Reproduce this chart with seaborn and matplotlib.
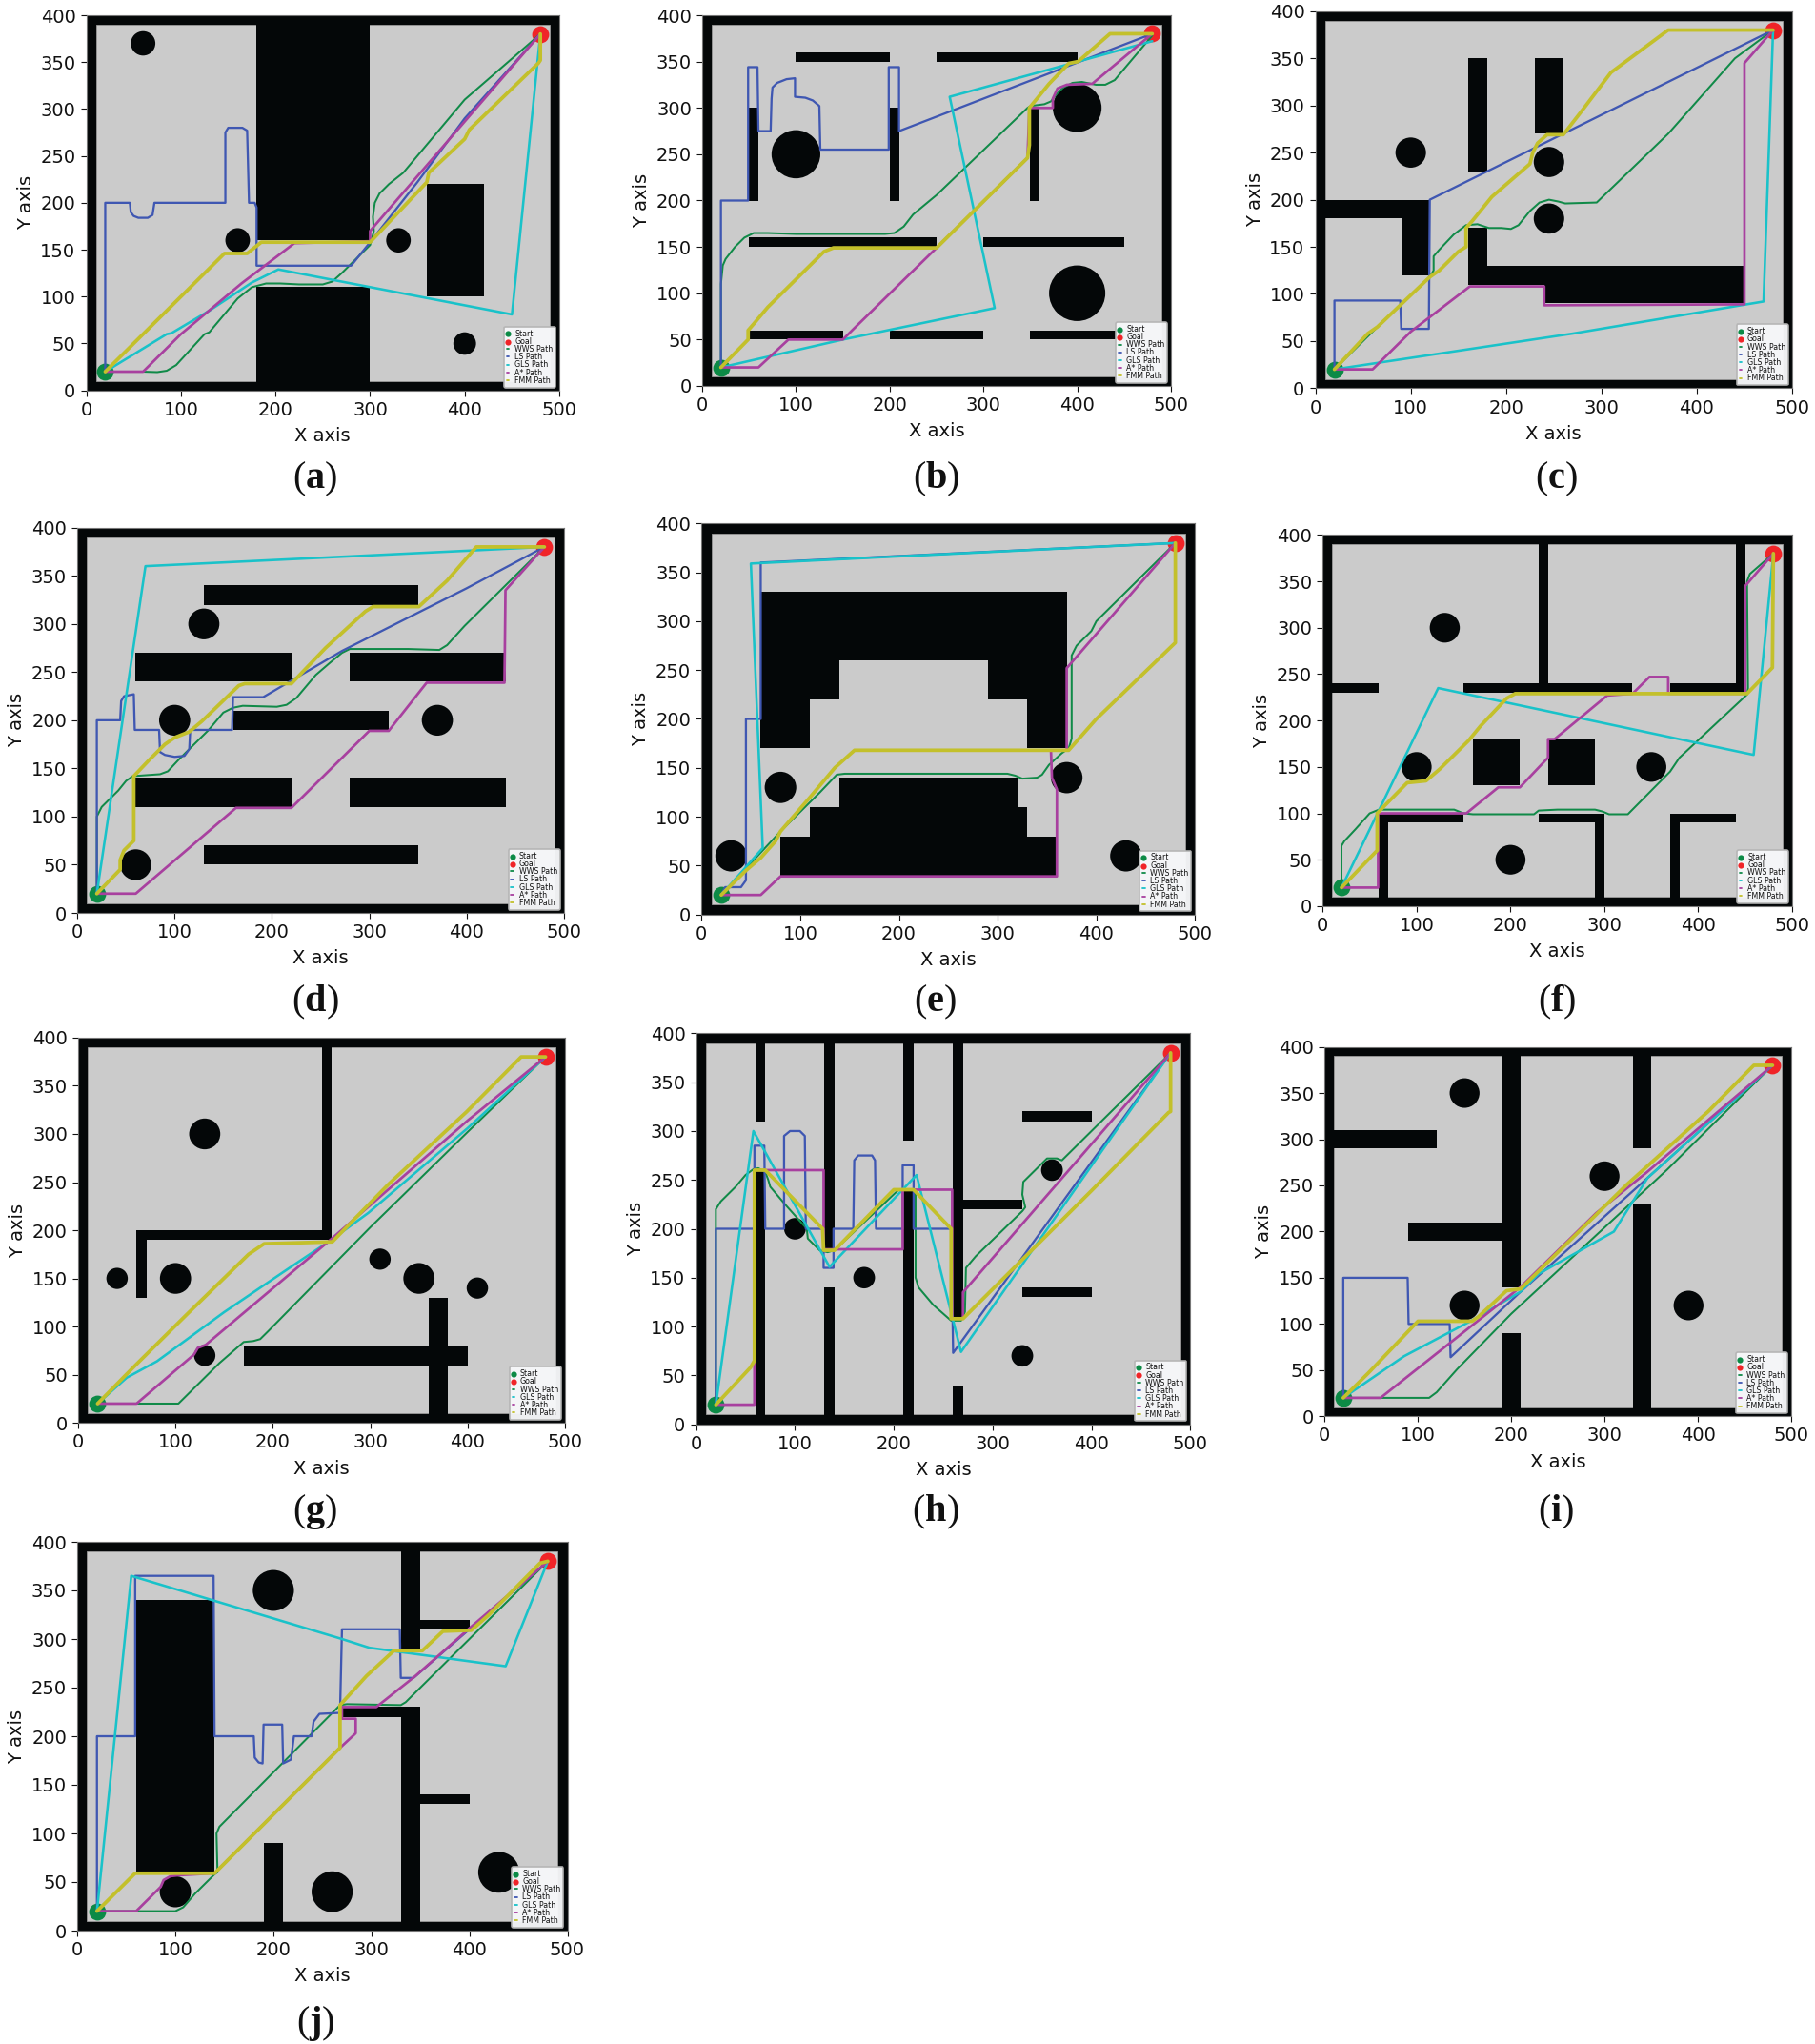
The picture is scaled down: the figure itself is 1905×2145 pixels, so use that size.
import matplotlib
matplotlib.use("Agg")
import matplotlib.pyplot as plt
from matplotlib.patches import Rectangle, Circle
import seaborn as sns

# ---------- DATA: obstacles (x0, x1, y0, y1), circles (x, y, r), paths (x, y) ----------
a_rects = [(180, 300, 160, 400), (180, 300, 0, 110), (360, 420, 100, 220)]
a_circles = [(60, 370, 13), (160, 160, 13), (330, 160, 13), (400, 50, 12)]
a_wws = [(20,20),(60,20),(75,19.5),(85,21),(95,27),(105,38),(125,60),(130,62),(160,98),(175,110),(190,114),(205,114),(225,113),(250,113),(260,116),(270,125),(285,140),(300,155),(304,170),(303,185),(305,200),(310,210),(320,220),(335,232),(350,250),(400,310),(480,380)]
a_ls = [(20,20),(20,200),(46,200),(47,190),(50,186),(55,184),(65,184),(70,187),(72,200),(147,200),(147,275),(150,280),(165,280),(170,277),(172,200),(178,200),(180,195),(180,133),(280,133),(300,158),(350,222),(400,290),(480,380)]
a_gls = [(20,20),(85,60),(90,61),(130,85),(175,115),(203,129),(450,81),(480,380)]
a_astar = [(20,20),(60,20),(100,60),(164,114),(220,157),(300,159),(300,170),(480,380)]
a_fmm = [(20,20),(60,60),(146,146),(170,146),(185,158),(300,158),(360,222),(362,232),(400,268),(405,278),(478,349),(480,352),(480,380)]

b_rects = [(50,60,200,300),(200,210,200,300),(350,360,200,300),(100,200,350,360),(250,400,350,360),(50,250,150,160),(300,450,150,160),(50,150,50,60),(200,300,50,60),(350,450,50,60)]
b_circles = [(100,250,26),(400,300,26),(400,100,30)]
b_wws = [(20,20),(20,110),(22,130),(25,137),(35,150),(45,160),(55,165),(70,165),(100,164),(150,164),(195,164),(205,165),(215,172),(225,185),(250,206),(347,300),(350,302),(365,304),(372,307),(378,315),(385,322),(395,327),(405,328),(420,325),(430,325),(440,330),(480,378)]
b_ls = [(20,20),(20,200),(49,200),(49,344),(59,344),(60,275),(73,275),(74,310),(75,322),(80,327),(90,331),(99,332),(99,312),(110,311),(118,308),(125,302),(126,255),(199,255),(199,344),(210,344),(210,275),(480,380)]
b_gls = [(20,20),(150,50),(312,84),(264,312),(401,350),(480,372)]
b_astar = [(20,20),(60,20),(92,50),(150,50),(162,62),(250,149),(347,246),(349,300),(374,300),(374,310),(379,321),(389,325),(416,326),(480,380)]
b_fmm = [(20,20),(49,50),(49,60),(55,67),(70,85),(115,130),(130,145),(140,149),(250,149),(347,246),(349,260),(349,300),(370,326),(391,348),(401,350),(435,380),(480,380)]

c_rects = [(10,120,180,200),(90,120,120,200),(160,180,230,350),(230,260,270,350),(160,180,110,170),(160,450,110,130),(240,450,90,130)]
c_circles = [(100,250,16),(245,240,16),(245,180,16)]
c_wws = [(20,20),(60,60),(120,118),(124,125),(124,140),(130,147),(145,163),(158,173),(170,174),(182,170),(195,170),(205,169),(213,173),(225,188),(235,197),(245,200),(255,198),(262,196),(295,197),(370,270),(440,350),(480,380)]
c_ls = [(20,20),(20,93),(89,93),(90,63),(119,63),(120,200),(370,325),(480,380)]
c_gls = [(20,20),(270,58),(370,75),(470,92),(480,380)]
c_astar = [(20,20),(60,20),(100,60),(162,108),(240,108),(240,88),(450,89),(450,345),(480,380)]
c_fmm = [(20,20),(55,58),(65,65),(120,118),(130,125),(150,145),(158,150),(158,170),(165,178),(185,203),(225,238),(228,250),(233,260),(243,269),(260,269),(280,295),(310,335),(370,380),(480,380)]

d_rects = [(130,350,320,340),(60,220,240,270),(280,440,240,270),(160,320,190,210),(60,220,110,140),(280,440,110,140),(130,350,50,70)]
d_circles = [(130,300,16),(100,200,16),(370,200,16),(60,50,16)]
d_wws = [(20,20),(20,100),(25,110),(35,120),(42,127),(50,137),(57,142),(85,144),(93,147),(105,160),(115,170),(135,190),(150,208),(160,213),(170,215),(205,214),(215,216),(225,223),(245,247),(260,260),(272,270),(280,274),(295,274),(340,274),(372,273),(380,278),(398,298),(440,340),(480,380)]
d_ls = [(20,20),(20,200),(44,200),(45,220),(48,225),(58,227),(59,190),(84,190),(85,167),(90,164),(100,162),(110,163),(115,170),(116,190),(159,190),(160,224),(191,224),(272,272),(400,337),(480,380)]
d_gls = [(20,20),(70,360),(400,376),(480,380)]
d_astar = [(20,20),(60,20),(163,109),(220,109),(300,189),(320,189),(359,239),(439,239),(440,335),(480,380)]
d_fmm = [(20,20),(44,45),(44,55),(48,65),(58,75),(58,142),(75,160),(90,175),(100,182),(115,188),(128,199),(166,236),(172,238),(220,238),(255,275),(296,313),(304,318),(351,318),(380,345),(410,380),(480,380)]

e_rects = [(60,370,260,330),(60,140,220,260),(290,370,220,260),(60,110,170,220),(330,370,170,220),(140,320,40,140),(110,330,40,110),(80,360,40,80)]
e_circles = [(30,60,16),(80,130,16),(370,140,16),(430,60,16)]
e_wws = [(20,20),(80,85),(100,105),(120,125),(137,143),(145,144),(310,144),(318,142),(325,139),(340,140),(345,143),(352,153),(365,165),(372,170),(375,180),(375,265),(380,275),(395,290),(400,300),(480,380)]
e_ls = [(20,20),(24,28),(40,28),(45,35),(45,200),(60,200),(60,360),(480,380)]
e_gls = [(20,20),(62,68),(50,359),(480,380)]
e_astar = [(20,20),(60,20),(80,39),(360,39),(360,128),(355,140),(354,168),(370,168),(370,252),(480,380)]
e_fmm = [(20,20),(45,45),(60,58),(75,75),(80,85),(110,120),(135,150),(155,168),(372,168),(400,200),(480,278),(480,380)]

f_rects = [(230,240,230,400),(10,60,230,240),(150,330,230,240),(370,440,230,240),(440,450,230,400),(60,150,90,100),(60,70,0,100),(230,300,90,100),(290,300,0,100),(370,440,90,100),(370,380,0,100),(160,210,130,180),(240,290,130,180)]
f_circles = [(100,150,16),(350,150,16),(130,300,16),(200,50,16)]
f_wws = [(20,20),(20,65),(23,70),(35,83),(50,100),(60,104),(140,104),(145,102),(150,100),(160,99),(225,99),(230,103),(250,104),(290,104),(298,102),(305,99),(325,99),(370,145),(380,160),(452,228),(453,235),(452,350),(455,358),(480,380)]
f_gls = [(20,20),(123,235),(459,163),(480,380)]
f_astar = [(20,20),(59,20),(59,100),(153,100),(187,128),(210,128),(240,160),(240,180),(247,180),(303,227),(330,229),(348,247),(368,247),(368,229),(450,229),(450,345),(480,380)]
f_fmm = [(20,20),(58,60),(58,100),(90,133),(100,134),(110,135),(125,148),(155,178),(168,194),(196,224),(205,229),(452,229),(479,257),(480,380)]

g_rects = [(250,260,190,400),(60,260,190,200),(60,70,130,200),(170,400,60,80),(360,380,0,130)]
g_circles = [(40,150,11),(100,150,16),(130,300,16),(310,170,11),(350,150,16),(410,140,11),(130,70,11)]
g_wws = [(20,20),(60,20),(103,20),(125,42),(145,62),(170,84),(180,85),(187,87),(195,95),(300,203),(400,302),(480,380)]
g_gls = [(20,20),(50,47),(81,64),(150,115),(223,165),(260,190),(298,218),(400,306),(480,380)]
g_astar = [(20,20),(60,20),(119,71),(123,78),(131,81),(259,190),(399,313),(480,380)]
g_fmm = [(20,20),(59,60),(111,112),(175,175),(191,186),(261,188),(319,248),(399,323),(455,380),(480,380)]

h_rects = [(60,70,310,400),(60,70,0,260),(130,140,180,400),(130,140,0,140),(210,220,290,400),(210,220,0,240),(260,270,110,400),(260,270,0,40),(270,330,220,230),(330,400,310,320),(330,400,130,140)]
h_circles = [(100,200,11),(170,150,11),(360,260,11),(330,70,11)]
h_wws = [(20,20),(20,220),(25,228),(40,243),(50,255),(58,261),(63,262),(70,258),(73,250),(75,243),(90,225),(112,200),(113,190),(125,178),(133,176),(140,178),(205,240),(222,240),(222,150),(225,140),(240,122),(258,106),(268,106),(272,115),(273,160),(283,172),(330,218),(333,222),(330,235),(331,248),(345,262),(355,272),(365,272),(370,270),(400,300),(480,380)]
h_ls = [(20,20),(20,200),(59,200),(59,285),(69,285),(70,200),(89,200),(89,295),(95,300),(105,300),(110,295),(111,200),(129,200),(129,160),(139,160),(139,200),(159,200),(160,270),(164,275),(178,275),(181,270),(182,200),(209,200),(209,265),(220,265),(220,200),(258,200),(260,73),(480,380)]
h_gls = [(20,20),(58,300),(135,161),(223,255),(268,74),(480,380)]
h_astar = [(20,20),(59,20),(59,260),(129,260),(129,179),(209,179),(209,240),(259,240),(259,108),(270,108),(270,135),(480,380)]
h_fmm = [(20,20),(55,58),(59,65),(59,260),(70,260),(128,200),(129,178),(140,178),(200,240),(220,240),(258,200),(258,108),(270,108),(400,239),(478,319),(480,320),(480,380)]

i_rects = [(10,120,290,310),(90,190,190,210),(190,210,140,400),(190,210,0,90),(330,350,290,400),(330,350,0,230)]
i_circles = [(150,350,16),(300,260,16),(150,120,16),(390,120,16)]
i_wws = [(20,20),(112,20),(120,26),(142,51),(200,111),(367,267),(480,380)]
i_ls = [(20,20),(20,150),(89,150),(90,100),(134,100),(135,64),(208,133),(347,259),(480,380)]
i_gls = [(20,20),(85,65),(160,105),(210,135),(229,154),(310,200),(346,258),(480,380)]
i_astar = [(20,20),(60,20),(210,140),(291,220),(345,264),(480,380)]
i_fmm = [(20,20),(47,47),(100,103),(158,103),(165,108),(195,136),(210,138),(324,251),(411,330),(460,380),(480,380)]

j_rects = [(60,140,60,340),(190,210,0,90),(330,350,290,400),(330,350,0,230),(270,350,220,230),(350,400,310,320),(350,400,130,140)]
j_circles = [(200,350,21),(100,40,16),(260,40,21),(430,60,21)]
j_wws = [(20,20),(100,20),(108,24),(120,38),(140,58),(143,60),(142,100),(145,107),(268,232),(275,233),(330,232),(335,235),(400,300),(480,380)]
j_ls = [(20,20),(20,200),(59,200),(59,365),(139,365),(140,200),(180,200),(181,178),(185,173),(189,172),(190,212),(209,212),(210,172),(218,176),(221,200),(239,200),(241,215),(247,223),(268,224),(270,310),(329,310),(330,260),(343,260),(400,310),(480,380)]
j_gls = [(20,20),(55,365),(270,300),(298,291),(437,272),(480,380)]
j_astar = [(20,20),(60,20),(85,45),(88,52),(95,56),(104,57),(140,59),(268,188),(284,203),(284,218),(270,218),(270,230),(305,230),(345,262),(400,311),(480,380)]
j_fmm = [(20,20),(59,59),(140,59),(268,188),(268,232),(295,262),(323,288),(352,288),(373,308),(402,309),(420,325),(472,378),(480,380)]

start_point = (20, 20)
goal_point = (480, 380)
x_ticks = [0, 100, 200, 300, 400, 500]
y_ticks = [0, 50, 100, 150, 200, 250, 300, 350, 400]
panel_letters = ["a", "b", "c", "d", "e", "f", "g", "h", "i", "j"]

# ---------- LAYOUT (pixels): left, right, top, bottom of the axes; caption centre ----------
W, H = 1905, 2145
boxes = {
    "a": (90.6, 587, 16, 409.7, 331, 502),
    "b": (737, 1229, 16, 405, 983, 502),
    "c": (1380.6, 1881, 11.8, 407.4, 1634, 502),
    "d": (81.2, 591.8, 553.7, 958, 331, 1051),
    "e": (736.3, 1254.3, 549.3, 959.7, 982, 1051),
    "f": (1388.3, 1881, 561.4, 950.9, 1634, 1051),
    "g": (82, 593, 1088.9, 1493.2, 331, 1586),
    "h": (730.6, 1249.4, 1084.4, 1494.6, 982, 1586),
    "i": (1390.3, 1880, 1098.6, 1486.3, 1633, 1586),
    "j": (81.2, 595.5, 1618, 2026, 331, 2123),
}
panels = {
    "a": (a_rects, a_circles, a_wws, a_ls, a_gls, a_astar, a_fmm),
    "b": (b_rects, b_circles, b_wws, b_ls, b_gls, b_astar, b_fmm),
    "c": (c_rects, c_circles, c_wws, c_ls, c_gls, c_astar, c_fmm),
    "d": (d_rects, d_circles, d_wws, d_ls, d_gls, d_astar, d_fmm),
    "e": (e_rects, e_circles, e_wws, e_ls, e_gls, e_astar, e_fmm),
    "f": (f_rects, f_circles, f_wws, None, f_gls, f_astar, f_fmm),
    "g": (g_rects, g_circles, g_wws, None, g_gls, g_astar, g_fmm),
    "h": (h_rects, h_circles, h_wws, h_ls, h_gls, h_astar, h_fmm),
    "i": (i_rects, i_circles, i_wws, i_ls, i_gls, i_astar, i_fmm),
    "j": (j_rects, j_circles, j_wws, j_ls, j_gls, j_astar, j_fmm),
}
styles = [("WWS Path", "#108a48", 1.45), ("LS Path", "#3f57b2", 1.65), ("GLS Path", "#19c2c9", 1.85),
          ("A* Path", "#a8409f", 1.95), ("FMM Path", "#c3c02b", 2.7)]
BLACK = "#040708"
GRAY = "#cbcbcb"
CAP = 29

sns.set_theme(style="ticks", rc={"font.family": "DejaVu Sans", "text.color": "#111111",
                                 "axes.labelcolor": "#111111", "xtick.color": "#111111", "ytick.color": "#111111"})
fig = plt.figure(figsize=(W / 100, H / 100), dpi=100, facecolor="white")
renderer = fig.canvas.get_renderer()

for letter in panel_letters:
    left, right, top, bottom, cx, cy = boxes[letter]
    rects, circles, wws, ls, gls, astar, fmm = panels[letter]
    ax = fig.add_axes([left / W, 1 - bottom / H, (right - left) / W, (bottom - top) / H])
    ax.set_facecolor(BLACK)
    ax.add_patch(Rectangle((10, 10), 480, 380, fc=GRAY, ec="#9a9a9a", lw=0.6, zorder=1))
    for x0, x1, y0, y1 in rects:
        ax.add_patch(Rectangle((x0, y0), x1 - x0, y1 - y0, fc=BLACK, ec="none", zorder=1.1))
    for x, y, r in circles:
        ax.add_patch(Circle((x, y), r, fc=BLACK, ec="none", zorder=1.1))

    sns.scatterplot(x=[start_point[0]], y=[start_point[1]], color="#0c8a46", s=165, linewidth=0,
                    label="Start", ax=ax, zorder=1.5)
    sns.scatterplot(x=[goal_point[0]], y=[goal_point[1]], color="#f02428", s=165, linewidth=0,
                    label="Goal", ax=ax, zorder=1.5)
    for (name, colour, lw), path in zip(styles, (wws, ls, gls, astar, fmm)):
        if path is None:
            continue
        sns.lineplot(x=[p[0] for p in path], y=[p[1] for p in path], sort=False, estimator=None,
                     color=colour, linewidth=lw, label=name, ax=ax, zorder=2)

    ax.set_xlim(0, 500)
    ax.set_ylim(0, 400)
    ax.set_xticks(x_ticks)
    ax.set_yticks(y_ticks)
    ax.tick_params(labelsize=14, length=4.5, width=0.8, pad=3.5)
    ax.set_xlabel("X axis", fontsize=14, labelpad=6)
    ax.set_ylabel("Y axis", fontsize=14, labelpad=4)
    for spine in ax.spines.values():
        spine.set_linewidth(0.8)
        spine.set_color("#777777")

    leg = ax.legend(loc="lower right", bbox_to_anchor=(0.992, 0.008), borderaxespad=0, fontsize=5.7,
                    frameon=True, framealpha=0.97, facecolor="#f6f7f9", edgecolor="#b5b5b5",
                    markerscale=0.35, handlelength=0.35, handletextpad=0.7, labelspacing=-0.1,
                    borderpad=0.35, fancybox=True)
    leg.set_zorder(5)
    leg.get_frame().set_linewidth(1.2)
    for line in leg.get_lines():
        line.set_linewidth(1.3)

    # caption: upright brackets around a bold letter
    lt = fig.text(cx / W, 1 - cy / H, letter, family="Liberation Serif", weight="bold", fontsize=CAP,
                  ha="center", va="baseline", color="#111111")
    half = lt.get_window_extent(renderer).width / 2
    y_txt = 1 - (cy + 10) / H
    lt.set_y(y_txt)
    fig.text((cx - half) / W, y_txt, "(", family="Liberation Serif", fontsize=CAP, ha="right",
             va="baseline", color="#111111")
    fig.text((cx + half) / W, y_txt, ")", family="Liberation Serif", fontsize=CAP, ha="left",
             va="baseline", color="#111111")

fig.savefig("out.png", dpi=100, facecolor="white")
